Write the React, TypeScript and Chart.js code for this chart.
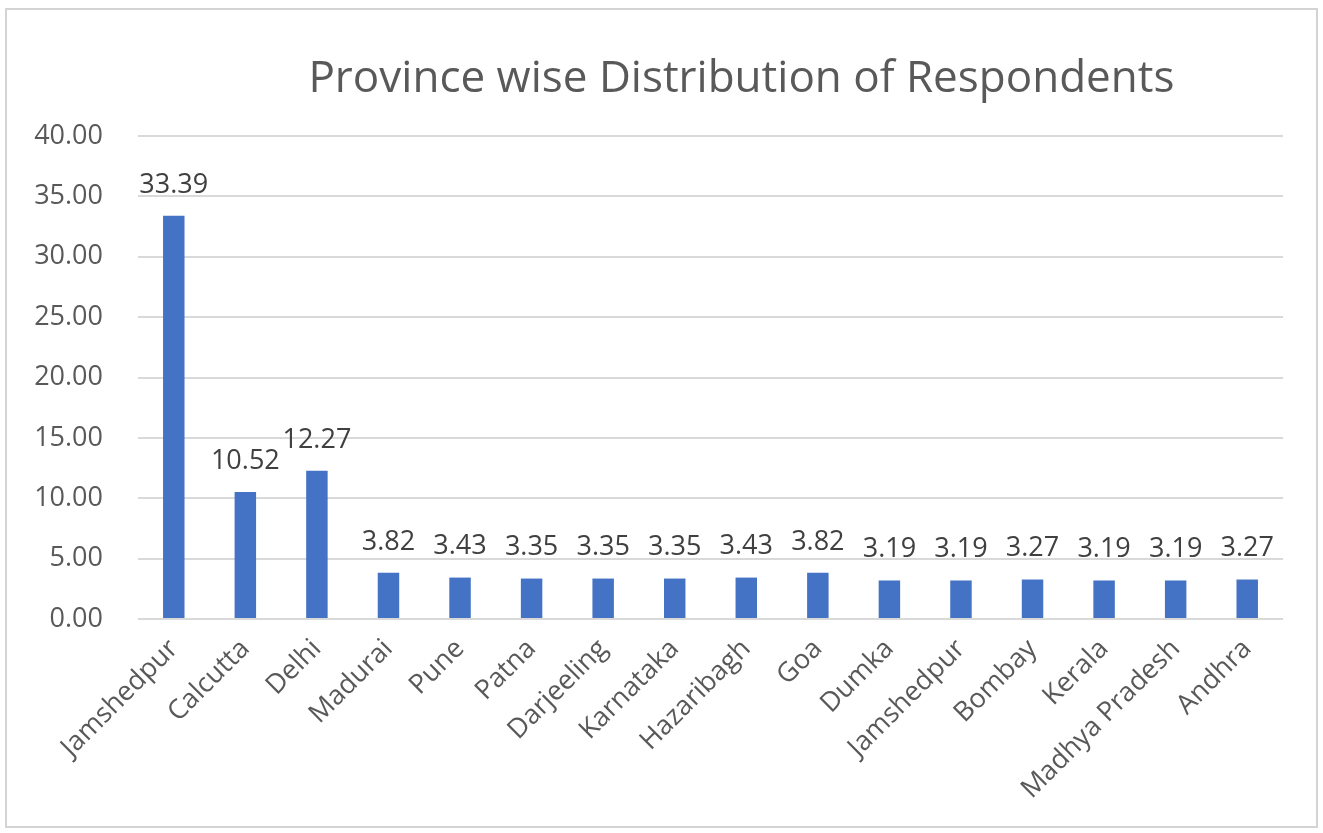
import React, { useEffect, useRef } from "react";
import { Chart, registerables } from "chart.js";

Chart.register(...registerables);

const categories: string[] = [
  "Jamshedpur", "Calcutta", "Delhi", "Madurai", "Pune", "Patna", "Darjeeling", "Karnataka",
  "Hazaribagh", "Goa", "Dumka", "Jamshedpur", "Bombay", "Kerala", "Madhya Pradesh", "Andhra",
];
const percentages: number[] = [
  33.39, 10.52, 12.27, 3.82, 3.43, 3.35, 3.35, 3.35, 3.43, 3.82, 3.19, 3.19, 3.27, 3.19, 3.19, 3.27,
];
const titleText = "Province wise Distribution of Respondents";
const yMin = 0;
const yMax = 40;
const yStep = 5;

const FONT = "'Open Sans', 'Noto Sans', sans-serif";

const dataLabelPlugin = {
  id: "dataLabels",
  afterDatasetsDraw(chart: any) {
    const ctx = chart.ctx;
    const meta = chart.getDatasetMeta(0);
    const ds = chart.data.datasets[0];
    ctx.save();
    ctx.font = `27px ${FONT}`;
    ctx.fillStyle = "#404040";
    ctx.textAlign = "center";
    ctx.textBaseline = "middle";
    meta.data.forEach((bar: any, i: number) => {
      const v = ds.data[i] as number;
      ctx.fillText(v.toFixed(2), bar.x, bar.y - 31);
    });
    ctx.restore();
  },
};

const titlePlugin = {
  id: "offsetTitle",
  afterDraw(chart: any) {
    const ctx = chart.ctx;
    ctx.save();
    ctx.font = `44px ${FONT}`;
    ctx.fillStyle = "#595959";
    ctx.textAlign = "center";
    ctx.textBaseline = "middle";
    const cx = chart.chartArea.left + (chart.chartArea.right - chart.chartArea.left) * 0.527;
    ctx.fillText(titleText, cx, 79);
    ctx.restore();
  },
};

export default function App() {
  const canvasRef = useRef<HTMLCanvasElement | null>(null);

  useEffect(() => {
    if (!canvasRef.current) return;
    const chart = new Chart(canvasRef.current, {
      type: "bar",
      data: {
        labels: categories,
        datasets: [
          {
            data: percentages,
            backgroundColor: "#4472C4",
            borderWidth: 0,
            barPercentage: 0.3,
            categoryPercentage: 1,
          },
        ],
      },
      options: {
        responsive: false,
        animation: false,
        layout: { padding: { left: 0, right: 40, top: 136, bottom: 0 } },
        plugins: {
          legend: { display: false },
          tooltip: { enabled: false },
          title: { display: false },
        },
        scales: {
          x: {
            grid: { display: false },
            border: { display: false },
            ticks: {
              color: "#595959",
              font: { family: FONT, size: 27 },
              minRotation: 45,
              maxRotation: 45,
              autoSkip: false,
              padding: 6,
            },
            afterFit(scale: any) {
              scale.height = 214;
            },
          },
          y: {
            min: yMin,
            max: yMax,
            border: { display: false },
            grid: { color: "#d9d9d9", lineWidth: 2, drawTicks: false },
            ticks: {
              stepSize: yStep,
              color: "#595959",
              font: { family: FONT, size: 27 },
              padding: 35,
              callback: (v: any) => Number(v).toFixed(2),
            },
            afterFit(scale: any) {
              scale.width = 138;
            },
          },
        },
      },
      plugins: [dataLabelPlugin, titlePlugin],
    });
    return () => chart.destroy();
  }, []);

  return (
    <div
      style={{
        position: "fixed",
        left: 0,
        top: 0,
        width: 1323,
        height: 833,
        background: "#ffffff",
      }}
    >
      <canvas
        ref={canvasRef}
        width={1323}
        height={833}
        style={{ position: "absolute", left: 0, top: 0, width: 1323, height: 833 }}
      />
      <div
        style={{
          position: "absolute",
          left: 5,
          top: 8,
          width: 1313,
          height: 820,
          border: "2px solid #d4d4d4",
          boxSizing: "border-box",
          pointerEvents: "none",
        }}
      />
    </div>
  );
}
